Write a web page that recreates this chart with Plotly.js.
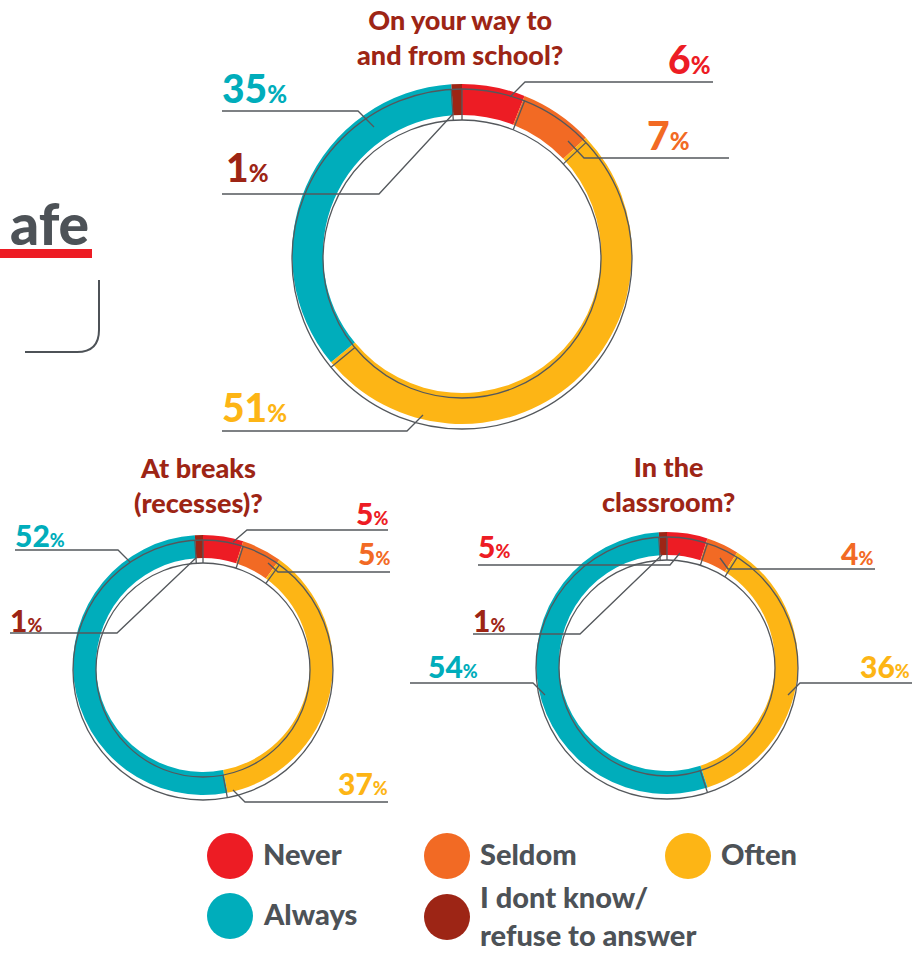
<!DOCTYPE html>
<html>
<head>
<meta charset="utf-8">
<script src="https://cdn.plot.ly/plotly-3.0.1.min.js"></script>
<style>
  html, body { margin: 0; padding: 0; background: #fff; }
  #chart { width: 912px; height: 953px; }
</style>
</head>
<body>
<div id="chart"></div>
<script>
// answer categories and their colours
var categories = ['Never', 'Seldom', 'Often', 'Always', 'I dont know/\nrefuse to answer'];
var colors = ['#ED1C24', '#F26A24', '#FDB515', '#00ADBB', '#9D2515'];

// questions
var questions = ['On your way to\nand from school?', 'At breaks\n(recesses)?', 'In the\nclassroom?'];

// percent answering, same order as categories
var wayToSchool = [6, 7, 51, 35, 1];
var atBreaks = [5, 5, 37, 52, 1];
var inClassroom = [5, 4, 36, 54, 1];

var W = 912, H = 953;
var grey = '#54585C';
var ink = '#4D5257';
var titleColor = '#9D2515';
var font = 'Lato';

// ring geometry (pixels); tx/tb = title centre x and mean baseline
var rings = [
  {cx: 462, cy: 254, r: 170, w: 31, num: 39, pct: 24, tx: 460, tb: 47},
  {cx: 203, cy: 665, r: 130, w: 23, num: 30, pct: 18, tx: 198, tb: 495},
  {cx: 667, cy: 663, r: 131, w: 23, num: 30, pct: 18, tx: 668, tb: 494}
];

// label placement: text x, anchor, baseline y, line y, line end x, elbow x, ring x, ring y
var labelPos = [
  [
    [710, 'right', 74, 82, 713, 525, 510, 97],
    [689, 'right', 150, 158, 729, 584, 568, 141],
    [222, 'left', 422, 431, 222, 407, 423, 415],
    [222, 'left', 103, 111, 222, 358, 374, 127],
    [226, 'left', 182, 194, 222, 379, 453, 114]
  ],
  [
    [388, 'right', 525, 530, 388, 247, 233, 542],
    [390, 'right', 565, 572, 390, 278, 268, 563],
    [388, 'right', 795, 802, 388, 245, 233, 790],
    [15, 'left', 547, 550, 15, 118, 130, 562],
    [10, 'left', 632, 633, 10, 117, 197, 557]
  ],
  [
    [478, 'left', 558, 565, 478, 670, 680, 553],
    [873, 'right', 565, 569, 875, 728, 720, 558],
    [910, 'right', 678, 683, 912, 800, 788, 695],
    [428, 'left', 678, 683, 410, 533, 545, 695],
    [473, 'left', 632, 634, 473, 580, 662, 555]
  ]
];

// legend placement: circle centre x, y and mean text baseline
var legendPos = [
  [230, 856, 865],
  [447, 856, 865],
  [688, 856, 865],
  [230, 916, 925],
  [447, 917, 927]
];

var series = [wayToSchool, atBreaks, inClassroom];
var traces = [{x: [], y: [], type: 'scatter', mode: 'markers', hoverinfo: 'skip', showlegend: false}];
var shapes = [];
var annotations = [];

// place text by its (mean) baseline
function textAt(x, baseline, anchor, text, size, color) {
  annotations.push({
    xref: 'x', yref: 'y', x: x, y: baseline - 0.386 * size,
    xanchor: anchor, yanchor: 'middle', showarrow: false, align: anchor === 'center' ? 'center' : 'left',
    borderpad: 0, borderwidth: 0, text: text,
    font: {family: font, size: size, color: color, weight: 900}
  });
}

series.forEach(function(vals, k) {
  var g = rings[k];
  traces.push({
    type: 'pie',
    values: vals,
    labels: categories,
    marker: {colors: colors, line: {width: 0}},
    hole: (g.r - g.w) / g.r,
    sort: false,
    direction: 'clockwise',
    rotation: 0,
    textinfo: 'none',
    hoverinfo: 'none',
    showlegend: false,
    domain: {
      x: [(g.cx - g.r) / W, (g.cx + g.r) / W],
      y: [1 - (g.cy + g.r) / H, 1 - (g.cy - g.r) / H]
    }
  });

  // offset grey outlines
  var oy = g.cy + 5;
  [g.r, g.r - g.w].forEach(function(rr) {
    shapes.push({type: 'circle', xref: 'x', yref: 'y',
      x0: g.cx - rr, x1: g.cx + rr, y0: oy - rr, y1: oy + rr,
      line: {color: grey, width: 1.3}});
  });

  // slice boundary ticks
  var total = vals.reduce(function(a, b) { return a + b; }, 0);
  var cum = 0;
  vals.forEach(function(v) {
    var t = cum / total * 2 * Math.PI;
    var s = Math.sin(t), c = Math.cos(t);
    shapes.push({type: 'line', xref: 'x', yref: 'y',
      x0: g.cx + (g.r - g.w) * s, y0: oy - (g.r - g.w) * c,
      x1: g.cx + g.r * s, y1: oy - g.r * c,
      line: {color: grey, width: 1.3}});
    cum += v;
  });

  // leader lines and percent labels
  vals.forEach(function(v, i) {
    var p = labelPos[k][i];
    shapes.push({type: 'path', xref: 'x', yref: 'y',
      path: 'M' + p[6] + ',' + p[7] + ' L' + p[5] + ',' + p[3] + ' L' + p[4] + ',' + p[3],
      line: {color: grey, width: 1.3}});
    textAt(p[0], p[2], p[1],
      v + '<span style="font-size:' + g.pct + 'px">%</span>', g.num, colors[i]);
  });

  // question title
  textAt(g.tx, g.tb, 'center', questions[k].replace('\n', '<br>'), 27, titleColor);
});

// legend
categories.forEach(function(name, i) {
  var p = legendPos[i];
  shapes.push({type: 'circle', xref: 'x', yref: 'y',
    x0: p[0] - 23, x1: p[0] + 23, y0: p[1] - 23, y1: p[1] + 23,
    fillcolor: colors[i], line: {width: 0}});
  textAt(p[0] + 33, p[2], 'left', name.replace('\n', '<br>'), 29, ink);
});

// cut-off heading on the left
textAt(89, 245, 'right', 'afe', 57, ink);
shapes.push({type: 'rect', xref: 'x', yref: 'y', x0: -2, x1: 92, y0: 249, y1: 258,
  fillcolor: '#ED1C24', line: {width: 0}});
shapes.push({type: 'path', xref: 'x', yref: 'y',
  path: 'M99,280 L99,330 Q99,352 77,352 L25,352',
  line: {color: ink, width: 2}});

var layout = {
  width: W,
  height: H,
  margin: {l: 0, r: 0, t: 0, b: 0},
  paper_bgcolor: 'white',
  plot_bgcolor: 'white',
  showlegend: false,
  xaxis: {range: [0, W], visible: false, fixedrange: true},
  yaxis: {range: [H, 0], visible: false, fixedrange: true},
  shapes: shapes,
  annotations: annotations
};

Plotly.newPlot('chart', traces, layout, {staticPlot: true});
</script>
</body>
</html>
